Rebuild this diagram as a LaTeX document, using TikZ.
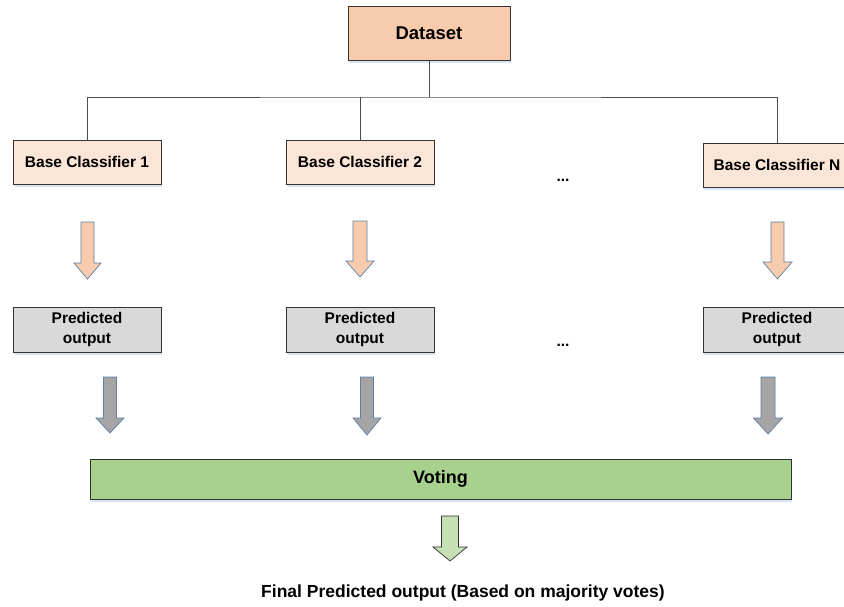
\documentclass[tikz,border=0pt]{standalone}
\usepackage{fontspec}
\setmainfont{Liberation Sans}
\usetikzlibrary{shadows}

\definecolor{peachdark}{HTML}{F8CBAD}
\definecolor{peachlight}{HTML}{FBE5D6}
\definecolor{greybox}{HTML}{D9D9D9}
\definecolor{greyarrow}{HTML}{A5A5A5}
\definecolor{greenbar}{HTML}{A9D18E}
\definecolor{greenarrow}{HTML}{C5E0B4}
\definecolor{arrowedge}{HTML}{5A7FA8}
\definecolor{boxedge}{HTML}{333333}
\definecolor{lineedge}{HTML}{4D4D4D}
\definecolor{glow}{HTML}{D3E2F3}

% block arrow pointing down: style, centre x, shaft half width, head half width,
% top y, head start y, tip y
\newcommand{\blockdown}[7]{%
  \filldraw[#1] ({#2-#3},#5) -- ({#2+#3},#5) -- ({#2+#3},#6) -- ({#2+#4},#6)
    -- (#2,#7) -- ({#2-#4},#6) -- ({#2-#3},#6) -- cycle;}

\begin{document}
\begin{tikzpicture}[x=1pt,y=-1pt,
  box/.style={draw=boxedge, line width=1pt, minimum width=148pt,
    inner sep=0pt, align=center,
    font=\bfseries\fontsize{15.5}{20}\selectfont,
    drop shadow={shadow xshift=1pt, shadow yshift=-3pt, fill=glow, opacity=0.9}},
  classbox/.style={box, fill=peachlight, minimum height=44pt},
  predbox/.style={box, fill=greybox, minimum height=45pt},
  link/.style={draw=lineedge, line width=0.9pt},
  orangearrow/.style={fill=peachdark, draw=arrowedge, line width=0.7pt},
  greyblock/.style={fill=greyarrow, draw=arrowedge, line width=0.7pt},
  greenblock/.style={fill=greenarrow, draw=boxedge, line width=0.7pt},
  dots/.style={font=\bfseries\fontsize{15.5}{18}\selectfont}]
\useasboundingbox (0,0) rectangle (844,606);
\clip (0,0) rectangle (844,606);

% source and classifiers
\node[box, fill=peachdark, minimum width=162pt, minimum height=54pt,
  font=\bfseries\fontsize{18.5}{22}\selectfont] (ds) at (429,33) {Dataset};
\node[classbox] (b1) at (87,162) {Base Classifier 1};
\node[classbox] (b2) at (360,162) {Base Classifier 2};
\node[classbox] (bn) at (777,165) {Base Classifier N};
\node[dots] (d1) at (563,180) {...};

% predictions
\node[predbox] (p1) at (87,329.5) {Predicted\\output};
\node[predbox] (p2) at (360,329.5) {Predicted\\output};
\node[predbox] (pn) at (777,329.5) {Predicted\\output};
\node[dots] (d2) at (563,345) {...};

% voting and result
\node[box, fill=greenbar, minimum width=701pt, minimum height=40pt,
  font=\bfseries\fontsize{18}{22}\selectfont] (vote) at (440.5,479) {Voting};
\node[font=\bfseries\fontsize{17.5}{21}\selectfont] (final) at (463,593)
  {Final Predicted output (Based on majority votes)};

% tree connectors
\coordinate (bus) at (ds.south |- 0,97);
\draw[link] (ds.south) -- (bus);
\draw[link] (b1.north) |- (bus) -| (bn.north);
\draw[link] (b2.north) -- (b2.north |- bus);

% block arrows
\blockdown{orangearrow}{87.5}{6.5}{13.5}{222}{263}{279}
\blockdown{orangearrow}{360}{7}{14}{221}{261}{277}
\blockdown{orangearrow}{777.5}{6.5}{14.5}{222}{262}{279}
\blockdown{greyblock}{110}{6.5}{14}{377}{418}{433}
\blockdown{greyblock}{367}{6.5}{14}{377}{418}{435}
\blockdown{greyblock}{768}{7}{14.5}{377}{418}{434}
\blockdown{greenblock}{450}{8.5}{17}{516}{547}{561}
\end{tikzpicture}
\end{document}
